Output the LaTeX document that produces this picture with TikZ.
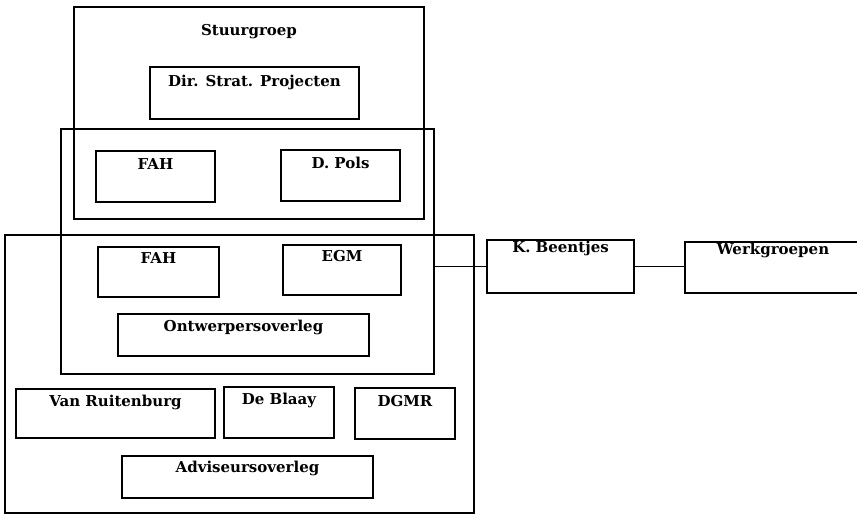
\documentclass[tikz,border=0pt]{standalone}
\usepackage{fontspec}
\setmainfont{DejaVu Serif}
\begin{document}
\begin{tikzpicture}[x=1pt, y=-1pt,
  box/.style={draw, line width=1.3pt, inner sep=0pt, rectangle},
  lbl/.style={anchor=base, inner sep=0pt, font=\fontsize{15}{18}\selectfont\bfseries},
  link/.style={line width=1.3pt}]
\clip (0,0) rectangle (857,515);

% outer groups
\node[box, minimum width=350pt, minimum height=212pt,
  label={[lbl, yshift=-29pt]north:Stuurgroep}] (stuur) at (249,113) {};
\node[box, minimum width=373pt, minimum height=245pt] (ontwgroep) at (247.5,251.5) {};
\node[box, minimum width=469pt, minimum height=278pt] (advgroep) at (239.5,374) {};

% members
\node[box, minimum width=209pt, minimum height=52pt,
  label={[lbl, yshift=-20pt]north:Dir. Strat. Projecten}] (dsp) at (254.5,93) {};
\node[box, minimum width=119pt, minimum height=51pt,
  label={[lbl, yshift=-19pt]north:FAH}] (fahA) at (155.5,176.5) {};
\node[box, minimum width=119pt, minimum height=51pt,
  label={[lbl, yshift=-19pt]north:D. Pols}] (pols) at (340.5,175.5) {};
\node[box, minimum width=121pt, minimum height=50pt,
  label={[lbl, yshift=-17pt]north:FAH}] (fahB) at (158.5,272) {};
\node[box, minimum width=118pt, minimum height=50pt,
  label={[lbl, yshift=-17pt]north:EGM}] (egm) at (342,270) {};
\node[box, minimum width=251pt, minimum height=42pt,
  label={[lbl, yshift=-18pt]north:Ontwerpersoverleg}] (ontw) at (243.5,335) {};
\node[box, minimum width=199pt, minimum height=49pt,
  label={[lbl, yshift=-18pt]north:Van Ruitenburg}] (vanr) at (115.5,413.5) {};
\node[box, minimum width=110pt, minimum height=51pt,
  label={[lbl, yshift=-18pt]north:De Blaay}] (blaay) at (279,412.5) {};
\node[box, minimum width=100pt, minimum height=51pt,
  label={[lbl, yshift=-19pt]north:DGMR}] (dgmr) at (405,413.5) {};
\node[box, minimum width=251pt, minimum height=42pt,
  label={[lbl, yshift=-17pt]north:Adviseursoverleg}] (advi) at (247.5,477) {};

% side chain
\node[box, minimum width=147pt, minimum height=53pt,
  label={[lbl, yshift=-13.5pt]north:K. Beentjes}] (beent) at (560.5,266.5) {};
\node[box, minimum width=176pt, minimum height=51pt,
  label={[lbl, yshift=-13.5pt]north:Werkgroepen}] (werk) at (773,267.5) {};

\draw[link] (ontwgroep.east |- beent.west) -- (beent.west);
\draw[link] (beent.east) -- (beent.east -| werk.west);
\end{tikzpicture}
\end{document}
